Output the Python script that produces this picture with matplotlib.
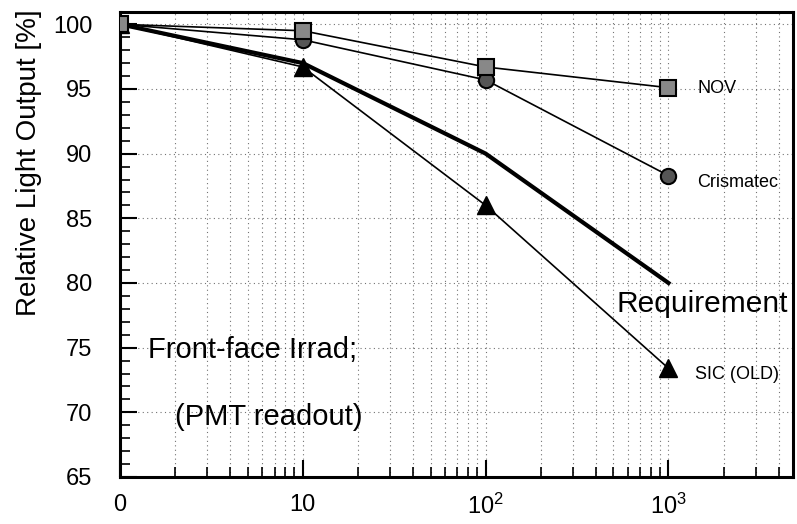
import numpy as np
import matplotlib
matplotlib.use("Agg")
import matplotlib.pyplot as plt
from matplotlib.ticker import FixedLocator, NullFormatter

plt.rcParams['font.family'] = ['Liberation Sans', 'DejaVu Sans']
plt.rcParams['mathtext.default'] = 'regular'

# dose points (0 drawn at the left edge of the log axis)
dose = [1, 10, 100, 1000]
nov = [100.0, 99.5, 96.7, 95.1]
crismatec = [100.0, 98.8, 95.7, 88.3]
sic_old = [100.0, 96.7, 86.0, 73.4]
requirement = [100.0, 97.0, 90.0, 80.0]

xticks = [1, 10, 100, 1000]
xticklabels = ['0', '10', '$10^{2}$', '$10^{3}$']
yticks = [65, 70, 75, 80, 85, 90, 95, 100]

fig = plt.figure(figsize=(7.97, 5.24), dpi=100)
ax = fig.add_axes([0.1506, 0.0897, 0.8444, 0.8874])
ax.set_xscale('log')
ax.set_xlim(1, 4800)
ax.set_ylim(65, 100.95)

# grid
xminor = [m * 10**d for d in range(0, 4) for m in range(2, 10)]
for xv in xticks + xminor:
    ax.axvline(xv, color='black', lw=0.8, ls=(0, (1, 3)), alpha=0.55, zorder=0)
for yv in yticks:
    ax.axhline(yv, color='black', lw=0.8, ls=(0, (1, 3)), alpha=0.55, zorder=0)

ax.plot(dose, requirement, color='black', lw=3.0, zorder=2)
ax.plot(dose, sic_old, color='black', lw=1.2, marker='^', ms=13,
        mfc='black', mec='black', zorder=3)
ax.plot(dose, crismatec, color='black', lw=1.2, marker='o', ms=11,
        mfc='#555555', mec='black', mew=1.5, zorder=3)
ax.plot(dose, nov, color='black', lw=1.2, marker='s', ms=11,
        mfc='#888888', mec='black', mew=1.5, zorder=4)

# ticks
ax.xaxis.set_major_locator(FixedLocator(xticks))
ax.set_xticklabels(xticklabels)
ax.xaxis.set_minor_locator(FixedLocator(xminor))
ax.xaxis.set_minor_formatter(NullFormatter())
ax.set_yticks(yticks)
ax.yaxis.set_minor_locator(FixedLocator(np.arange(65, 101, 1)))
ax.tick_params(which='major', direction='in', length=12, width=1.5,
               labelsize=17, top=False, right=False)
ax.tick_params(axis='x', which='major', pad=12)
ax.tick_params(axis='y', which='major', pad=20)
ax.tick_params(which='minor', direction='in', length=7, width=1.2,
               top=False, right=False)
for s in ax.spines.values():
    s.set_linewidth(2.2)

ax.set_ylabel('Relative Light Output [%]', fontsize=20, loc='top')
ax.yaxis.set_label_coords(-0.116, 1.005)

# annotations
ax.text(1440, 95.0, 'NOV', fontsize=13, ha='left', va='center')
ax.text(1440, 87.8, 'Crismatec', fontsize=13, ha='left', va='center')
ax.text(1390, 72.9, 'SIC (OLD)', fontsize=13, ha='left', va='center')
ax.text(520, 78.4, 'Requirement', fontsize=21.5, ha='left', va='center')
ax.text(1.42, 74.8, 'Front-face Irrad;', fontsize=21, ha='left', va='center')
ax.text(2.0, 69.6, '(PMT readout)', fontsize=21, ha='left', va='center')

fig.savefig('out.png', dpi=100)
